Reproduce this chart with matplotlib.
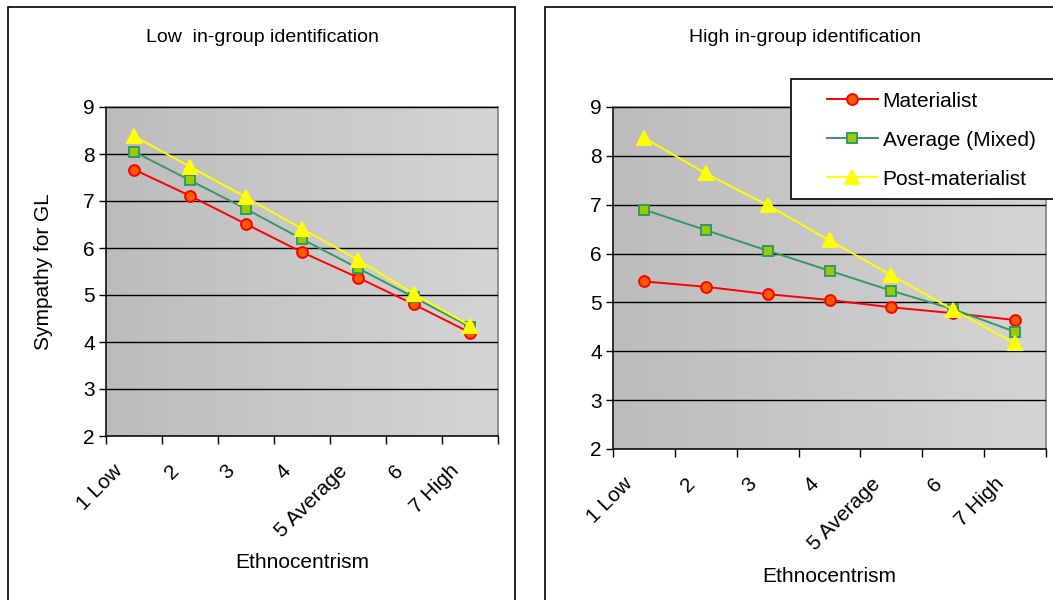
import numpy as np
import matplotlib.pyplot as plt
from matplotlib.colors import LinearSegmentedColormap
from matplotlib.patches import Rectangle
from matplotlib.transforms import ScaledTranslation

plt.rcParams['font.family'] = ['Liberation Sans', 'DejaVu Sans']

categories = ["1 Low", "2", "3", "4", "5 Average", "6", "7 High"]
series_names = ["Materialist", "Average (Mixed)", "Post-materialist"]

# low in-group identification
low_materialist = [7.67, 7.11, 6.51, 5.91, 5.37, 4.80, 4.20]
low_mixed = [8.05, 7.44, 6.83, 6.19, 5.57, 4.95, 4.32]
low_postmat = [8.38, 7.73, 7.08, 6.41, 5.75, 5.02, 4.35]

# high in-group identification
high_materialist = [5.43, 5.32, 5.17, 5.05, 4.90, 4.78, 4.64]
high_mixed = [6.90, 6.48, 6.06, 5.65, 5.24, 4.86, 4.40]
high_postmat = [8.37, 7.64, 6.99, 6.27, 5.56, 4.85, 4.16]

estilos = [
    dict(color="#ff0000", marker="o", mfc="#ff5a00", mec="#ff0000", ms=7.8),
    dict(color="#339966", marker="s", mfc="#99cc00", mec="#339966", ms=7),
    dict(color="#ffff00", marker="^", mfc="#ffff00", mec="#ffff00", ms=10.5),
]

FS = 15
W, H = 1053, 600
fig = plt.figure(figsize=(W / 100, H / 100), dpi=100)
fundo = LinearSegmentedColormap.from_list("fundo", ["#bcbcbc", "#d5d5d5"])


def px_axes(x0, y0, x1, y1):
    # pixel box (top-left origin) -> figure fraction
    return [x0 / W, 1 - y1 / H, (x1 - x0) / W, (y1 - y0) / H]


def desenhar(ax, valores, label_y):
    x = np.arange(len(categories))
    grad = np.linspace(0, 1, 256).reshape(1, -1)
    ax.imshow(grad, cmap=fundo, aspect="auto", extent=[0, 1, 0, 1],
              transform=ax.transAxes, zorder=0)
    linhas = []
    for nome, ys, st in zip(series_names, valores, estilos):
        l, = ax.plot(x, ys, lw=1.4, mew=1.4, label=nome, zorder=3,
                     clip_on=False, **st)
        linhas.append(l)

    ax.set_xlim(-0.5, len(categories) - 0.5)
    ax.set_ylim(2, 9)
    ax.set_yticks(range(2, 10))
    ax.yaxis.grid(True, color="black", lw=1.0, zorder=1)
    ax.set_axisbelow(False)
    ax.tick_params(axis="y", direction="out", length=5, width=1,
                   labelsize=FS, pad=3)

    ax.set_xticks(np.arange(-0.5, len(categories)), labels=[])
    ax.set_xticks(x, minor=True)
    ax.set_xticklabels(categories, minor=True, rotation=45, ha="right",
                       va="center", rotation_mode="anchor", fontsize=FS)
    ax.tick_params(axis="x", which="major", direction="out", length=6,
                   width=1)
    ax.tick_params(axis="x", which="minor", length=0, pad=23)
    desloc = ScaledTranslation(-0.14, 0, fig.dpi_scale_trans)
    for t in ax.xaxis.get_minorticklabels():
        t.set_transform(t.get_transform() + desloc)

    for s in ["top", "right"]:
        ax.spines[s].set_color("#808080")
        ax.spines[s].set_linewidth(1.2)
    for s in ["left", "bottom"]:
        ax.spines[s].set_color("#222222")
        ax.spines[s].set_linewidth(1.3)

    ax.set_xlabel("Ethnocentrism", fontsize=FS)
    ax.xaxis.set_label_coords(0.5, label_y)
    return linhas


# painel da esquerda
fig.add_artist(Rectangle((8 / W, -0.1), 507 / W, 1.1 - 7 / H, fill=False,
                         ec="black", lw=1.2, transform=fig.transFigure))
ax1 = fig.add_axes(px_axes(106, 107, 498, 436))
desenhar(ax1, [low_materialist, low_mixed, low_postmat], -0.355)
ax1.set_ylabel("Sympathy for GL", fontsize=FS)
ax1.yaxis.set_label_coords(-0.135, 0.5)
fig.text(262 / W, 1 - 38 / H, "Low  in-group identification",
         ha="center", va="center", fontsize=14)

# painel da direita
fig.add_artist(Rectangle((545 / W, -0.1), 0.6, 1.1 - 7 / H, fill=False,
                         ec="black", lw=1.2, transform=fig.transFigure))
ax2 = fig.add_axes(px_axes(613, 107, 1046, 449))
linhas = desenhar(ax2, [high_materialist, high_mixed, high_postmat], -0.345)
fig.text(805 / W, 1 - 38 / H, "High in-group identification",
         ha="center", va="center", fontsize=14)

# legenda com moldura propria
fig.add_artist(Rectangle((791 / W, 1 - 199 / H), 0.3, 120 / H,
                         fc="white", ec="black", lw=1.2,
                         transform=fig.transFigure, zorder=5))
leg = fig.legend(linhas, series_names, loc="upper left",
                 bbox_to_anchor=(812 / W, 1 - 77 / H), frameon=False,
                 fontsize=FS, handlelength=2.45, handletextpad=0.24,
                 labelspacing=0.96, borderpad=0.2)
leg.set_zorder(6)

fig.savefig("out.png", dpi=100)
